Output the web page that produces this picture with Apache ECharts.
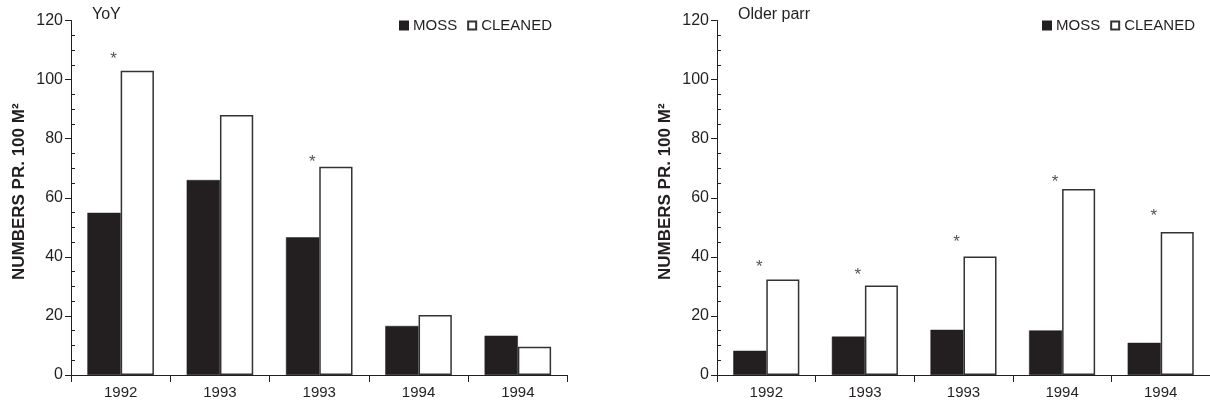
<!DOCTYPE html>
<html>
<head>
<meta charset="utf-8">
<script src="https://cdn.jsdelivr.net/npm/echarts@6/dist/echarts.min.js"></script>
<style>
  html, body { margin: 0; padding: 0; background: #fff; }
  #chart { width: 1210px; height: 407px; }
</style>
</head>
<body>
<div id="chart"></div>
<script>
// data
const categories = ["1992", "1993", "1993", "1994", "1994"]
const seriesNames = ["MOSS", "CLEANED"]
const panelTitles = ["YoY", "Older parr"]
const yTicks = [0, 20, 40, 60, 80, 100, 120]

const yoyMoss = [54.9, 66.0, 46.6, 16.6, 13.3]
const yoyCleaned = [103.0, 88.0, 70.5, 20.3, 9.6]
const yoyStars = [108.5, null, 73.8, null, null]

const parrMoss = [8.2, 13.0, 15.3, 15.1, 10.9]
const parrCleaned = [32.3, 30.3, 40.1, 63.0, 48.4]
const parrStars = [38.2, 35.5, 46.7, 67.0, 55.5]

const INK = "#231f20"
const FONT = "'Liberation Sans', Arial, sans-serif"

const panels = [
  { left: 71, title: panelTitles[0], moss: yoyMoss, cleaned: yoyCleaned, stars: yoyStars, legendLeft: 394 },
  { left: 717, title: panelTitles[1], moss: parrMoss, cleaned: parrCleaned, stars: parrStars, legendLeft: 1037 },
]

const grids = []
const xAxes = []
const yAxes = []
const series = []
const titles = []
const legends = []

panels.forEach((p, i) => {
  grids.push({ left: p.left, top: 20.5, width: 496.5, height: 354.5 })

  titles.push({
    text: p.title,
    left: p.left + 16,
    top: 2,
    textStyle: { fontFamily: FONT, fontSize: 16, fontWeight: "normal", color: INK },
  })

  legends.push({
    data: seriesNames,
    left: p.legendLeft,
    top: 13,
    itemWidth: 8,
    itemHeight: 8,
    itemGap: 10,
    icon: "rect",
    seriesIndex: [i * 3, i * 3 + 1],
    textStyle: { fontFamily: FONT, fontSize: 15, color: INK },
  })

  // main x axis: labels + outward ticks
  xAxes.push({
    type: "category",
    gridIndex: i,
    data: categories,
    axisLine: { lineStyle: { color: INK, width: 1 } },
    axisTick: { show: true, length: 5, lineStyle: { color: INK } },
    axisLabel: { fontFamily: FONT, fontSize: 15, color: INK, margin: 10 },
  })
  // second x axis only for the inward half of the crossing ticks
  xAxes.push({
    type: "category",
    gridIndex: i,
    data: categories,
    axisLine: { show: false },
    axisTick: { show: true, inside: true, length: 7, lineStyle: { color: INK } },
    axisLabel: { show: false },
  })

  yAxes.push({
    type: "value",
    gridIndex: i,
    min: yTicks[0],
    max: yTicks[yTicks.length - 1],
    interval: 20,
    name: "NUMBERS PR. 100 M²",
    nameLocation: "middle",
    nameGap: 43,
    nameTextStyle: { fontFamily: FONT, fontSize: 17, fontWeight: "bold", color: INK, padding: [0, 0, 0, 12] },
    axisLine: { show: true, lineStyle: { color: INK, width: 1 } },
    axisTick: { show: true, length: 6, lineStyle: { color: INK } },
    axisLabel: { fontFamily: FONT, fontSize: 16, color: INK, margin: 8 },
    splitLine: { show: false },
  })
  // second y axis for the inward minor ticks
  yAxes.push({
    type: "value",
    gridIndex: i,
    position: "left",
    min: yTicks[0],
    max: yTicks[yTicks.length - 1],
    interval: 20,
    axisLine: { show: false },
    axisTick: { show: false, inside: true },
    minorTick: { show: true, splitNumber: 4, length: 4, lineStyle: { color: INK } },
    axisLabel: { show: false },
    splitLine: { show: false },
  })

  series.push({
    name: seriesNames[0],
    type: "bar",
    xAxisIndex: i * 2,
    yAxisIndex: i * 2,
    data: p.moss,
    barGap: "0%",
    barCategoryGap: "33%",
    itemStyle: { color: INK, borderColor: INK, borderWidth: 0.5 },
  })
  series.push({
    name: seriesNames[1],
    type: "bar",
    xAxisIndex: i * 2,
    yAxisIndex: i * 2,
    data: p.cleaned,
    barGap: "0%",
    barCategoryGap: "33%",
    itemStyle: { color: "#fff", borderColor: "#333", borderWidth: 1.5 },
  })
  // significance asterisks
  series.push({
    name: "sig",
    type: "scatter",
    xAxisIndex: i * 2,
    yAxisIndex: i * 2,
    data: p.stars,
    symbolSize: 1,
    itemStyle: { color: "rgba(0,0,0,0)" },
    label: {
      show: true,
      position: "inside",
      formatter: "*",
      offset: [-7, 5],
      fontFamily: FONT,
      fontSize: 17,
      color: INK,
    },
    silent: true,
  })
})

const chart = echarts.init(document.getElementById("chart"), null, { renderer: "canvas" })
chart.setOption({
  animation: false,
  backgroundColor: "#fff",
  title: titles,
  legend: legends,
  grid: grids,
  xAxis: xAxes,
  yAxis: yAxes,
  series: series,
})
</script>
</body>
</html>
